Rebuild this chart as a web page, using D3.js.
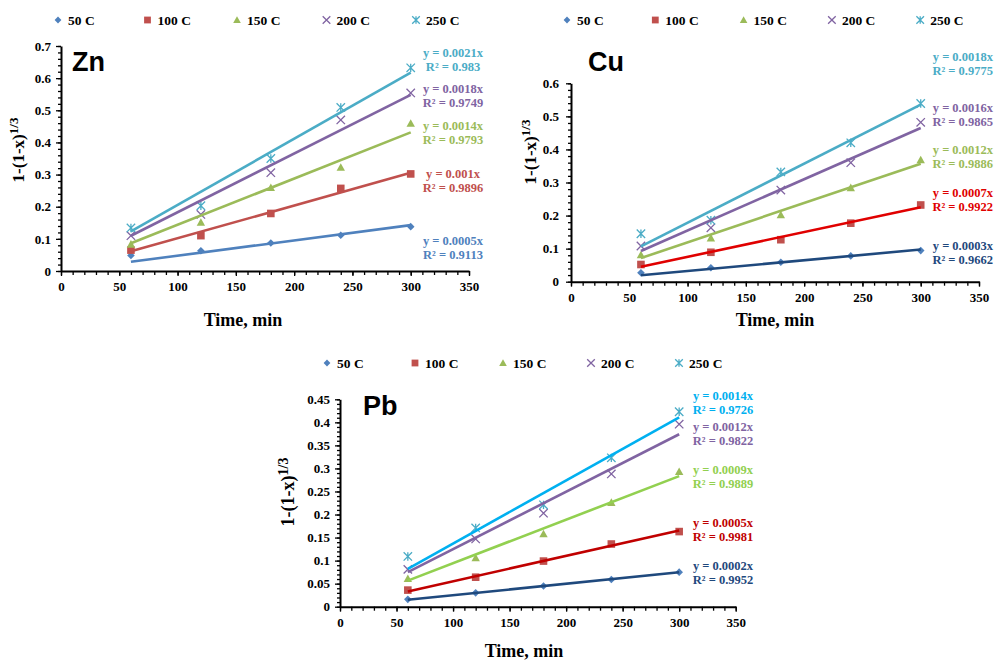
<!DOCTYPE html>
<html>
<head>
<meta charset="utf-8">
<script src="https://cdn.jsdelivr.net/npm/d3@7"></script>
<style>
body { margin: 0; background: #fff; }
svg text { font-family: "Liberation Serif", "Times New Roman", serif; font-weight: bold; }
</style>
</head>
<body>
<svg id="chart" width="994" height="663"></svg>
<script>
// data
var temps = ["50 C", "100 C", "150 C", "200 C", "250 C"];
var times = [60, 120, 180, 240, 300];
var xTicks = [0, 50, 100, 150, 200, 250, 300, 350];

var znValues = [
    [0.048, 0.063, 0.087, 0.111, 0.138],
    [0.065, 0.110, 0.179, 0.257, 0.302],
    [0.083, 0.151, 0.259, 0.322, 0.459],
    [0.110, 0.176, 0.306, 0.470, 0.554],
    [0.134, 0.203, 0.350, 0.509, 0.632]
];
var cuValues = [
    [0.027, 0.042, 0.059, 0.078, 0.094],
    [0.052, 0.089, 0.127, 0.177, 0.232],
    [0.081, 0.132, 0.202, 0.284, 0.368],
    [0.108, 0.163, 0.277, 0.360, 0.482],
    [0.145, 0.186, 0.332, 0.420, 0.539]
];
var pbValues = [
    [0.016, 0.030, 0.045, 0.059, 0.075],
    [0.036, 0.064, 0.099, 0.136, 0.163],
    [0.061, 0.106, 0.158, 0.226, 0.293],
    [0.081, 0.147, 0.203, 0.288, 0.396],
    [0.109, 0.171, 0.221, 0.323, 0.423]
];

var znEq = ["y = 0.0005x", "y = 0.001x", "y = 0.0014x", "y = 0.0018x", "y = 0.0021x"];
var znR2 = ["R² = 0.9113", "R² = 0.9896", "R² = 0.9793", "R² = 0.9749", "R² = 0.983"];
var cuEq = ["y = 0.0003x", "y = 0.0007x", "y = 0.0012x", "y = 0.0016x", "y = 0.0018x"];
var cuR2 = ["R² = 0.9662", "R² = 0.9922", "R² = 0.9886", "R² = 0.9865", "R² = 0.9775"];
var pbEq = ["y = 0.0002x", "y = 0.0005x", "y = 0.0009x", "y = 0.0012x", "y = 0.0014x"];
var pbR2 = ["R² = 0.9952", "R² = 0.9981", "R² = 0.9889", "R² = 0.9822", "R² = 0.9726"];

var znYTicks = [0, 0.1, 0.2, 0.3, 0.4, 0.5, 0.6, 0.7];
var cuYTicks = [0, 0.1, 0.2, 0.3, 0.4, 0.5, 0.6];
var pbYTicks = [0, 0.05, 0.1, 0.15, 0.2, 0.25, 0.3, 0.35, 0.4, 0.45];

var markerColors = ["#4F81BD", "#C0504D", "#9BBB59", "#8064A2", "#4BACC6"];

var svg = d3.select("#chart");

function markerPath(i, r) {
    if (i == 0) return "M0," + (-r) + "L" + r + ",0L0," + r + "L" + (-r) + ",0Z";
    if (i == 1) return "M" + (-r) + "," + (-r) + "H" + r + "V" + r + "H" + (-r) + "Z";
    if (i == 2) return "M0," + (-r) + "L" + r + "," + (r * 0.8) + "L" + (-r) + "," + (r * 0.8) + "Z";
    if (i == 3) return "M" + (-r) + "," + (-r) + "L" + r + "," + r + "M" + r + "," + (-r) + "L" + (-r) + "," + r;
    return "M" + (-r) + "," + (-r) + "L" + r + "," + r + "M" + r + "," + (-r) + "L" + (-r) + "," + r + "M0," + (-r) + "V" + r;
}

function drawMarker(g, i, x, y, r) {
    var p = g.append("path")
        .attr("transform", "translate(" + x + "," + y + ")")
        .attr("d", markerPath(i, r));
    if (i < 3) p.attr("fill", markerColors[i]).attr("stroke", "none");
    else p.attr("fill", "none").attr("stroke", markerColors[i]).attr("stroke-width", 1.3);
}

// least squares slope through origin, like the excel trendline
function slope(vals) {
    var sxy = d3.sum(times, function(t, k) { return t * vals[k]; });
    var sxx = d3.sum(times, function(t) { return t * t; });
    return sxy / sxx;
}

function drawPanel(p) {
    var x = d3.scaleLinear().domain([0, 350]).range(p.xr);
    var y = d3.scaleLinear().domain([0, p.yMax]).range(p.yr);
    var g = svg.append("g");

    // legend
    temps.forEach(function(t, i) {
        var lx = p.legX + i * p.legStep;
        drawMarker(g, i, lx, p.legY, i < 2 ? 3.4 : 3.8);
        g.append("text").attr("x", lx + 10).attr("y", p.legY + 5)
            .style("font-size", "13.5px").text(t);
    });

    // minor ticks
    g.append("g").attr("transform", "translate(0," + p.yr[0] + ")")
        .call(d3.axisBottom(x).tickValues(d3.range(0, 351, 10)).tickSize(4).tickFormat(""))
        .call(function(a) { a.select(".domain").remove(); a.selectAll("line").attr("stroke", "#000").attr("stroke-width", 1.3); });
    g.append("g").attr("transform", "translate(" + p.xr[0] + ",0)")
        .call(d3.axisLeft(y).tickValues(d3.range(0, p.yMax + 1e-9, p.yMinor)).tickSize(3).tickFormat(""))
        .call(function(a) { a.select(".domain").remove(); a.selectAll("line").attr("stroke", "#000").attr("stroke-width", 1.3); });

    // main axes
    var xAxis = g.append("g").attr("transform", "translate(0," + p.yr[0] + ")")
        .call(d3.axisBottom(x).tickValues(xTicks).tickSize(5).tickPadding(6).tickSizeOuter(0));
    var yAxis = g.append("g").attr("transform", "translate(" + p.xr[0] + ",0)")
        .call(d3.axisLeft(y).tickValues(p.yTicks).tickSize(5).tickPadding(p.yPad).tickSizeOuter(0)
            .tickFormat(function(d) { return d3.format("")(+d.toFixed(2)); }));
    [xAxis, yAxis].forEach(function(a) {
        a.select(".domain").attr("stroke", "#000").attr("stroke-width", 2);
        a.selectAll("line").attr("stroke", "#000").attr("stroke-width", 1.3);
        a.selectAll("text").attr("fill", "#000").style("font-size", "13px")
            .style("font-family", "'Liberation Serif', serif").style("font-weight", "bold");
    });

    // points
    p.values.forEach(function(vals, i) {
        vals.forEach(function(v, k) {
            drawMarker(g, i, x(times[k]), y(v), i < 2 ? 3.8 : 4.2);
        });
    });

    // trendlines
    p.values.forEach(function(vals, i) {
        var s = slope(vals);
        g.append("line")
            .attr("x1", x(times[0])).attr("y1", y(s * times[0]))
            .attr("x2", x(times[4])).attr("y2", y(s * times[4]))
            .attr("stroke", p.lineColors[i]).attr("stroke-width", 2.6);
        g.append("text").attr("x", p.eqX).attr("y", p.eqY[i] + 4.5)
            .attr("text-anchor", p.eqAnchor).attr("fill", p.lineColors[i])
            .style("font-size", "12.5px").text(p.eq[i]);
        g.append("text").attr("x", p.eqX).attr("y", p.eqY[i] + 18.5)
            .attr("text-anchor", p.eqAnchor).attr("fill", p.lineColors[i])
            .style("font-size", "12.5px").text(p.r2[i]);
    });

    // title
    g.append("text").attr("x", p.titleX).attr("y", p.titleY)
        .style("font-family", "'Liberation Sans', Arial, sans-serif")
        .style("font-size", "27px").text(p.title);

    // axis titles
    var yl = g.append("text")
        .attr("transform", "translate(" + p.ylX + "," + p.ylY + ") rotate(-90)")
        .attr("text-anchor", "middle").style("font-size", p.ylSize + "px");
    yl.append("tspan").text("1-(1-x)");
    yl.append("tspan").attr("dy", -6).style("font-size", (p.ylSize - 4) + "px").text("1/3");

    g.append("text").attr("x", p.xlX).attr("y", p.xlY)
        .attr("text-anchor", "middle").style("font-size", "18px").text("Time, min");
}

drawPanel({
    title: "Zn", values: znValues, eq: znEq, r2: znR2, yTicks: znYTicks,
    yMax: 0.7, yMinor: 0.02, xr: [61, 469], yr: [271, 46], yPad: 5,
    lineColors: ["#4F81BD", "#C0504D", "#9BBB59", "#8064A2", "#4BACC6"],
    legX: 58, legY: 20, legStep: 89.5,
    titleX: 72, titleY: 71, ylX: 24, ylY: 150, ylSize: 17, xlX: 243, xlY: 326,
    eqX: 453, eqAnchor: "middle", eqY: [240.7, 173.3, 125, 88.7, 52.7]
});

drawPanel({
    title: "Cu", values: cuValues, eq: cuEq, r2: cuR2, yTicks: cuYTicks,
    yMax: 0.6, yMinor: 0.02, xr: [571, 979], yr: [281.7, 83.3], yPad: 7,
    lineColors: ["#1F497D", "#E00000", "#9BBB59", "#8064A2", "#4BACC6"],
    legX: 567, legY: 20, legStep: 88.3,
    titleX: 588, titleY: 71, ylX: 536, ylY: 152, ylSize: 17, xlX: 775, xlY: 326,
    eqX: 993, eqAnchor: "end", eqY: [245, 192, 149, 107, 56.7]
});

drawPanel({
    title: "Pb", values: pbValues, eq: pbEq, r2: pbR2, yTicks: pbYTicks,
    yMax: 0.45, yMinor: 0.01, xr: [340, 735.7], yr: [606.7, 399.3], yPad: 5,
    lineColors: ["#1F497D", "#C00000", "#92D050", "#8064A2", "#00B0F0"],
    legX: 327, legY: 363, legStep: 88,
    titleX: 363, titleY: 415, ylX: 294, ylY: 492, ylSize: 18, xlX: 524, xlY: 657,
    eqX: 723, eqAnchor: "middle", eqY: [565, 522.7, 469, 426, 395.7]
});
</script>
</body>
</html>
